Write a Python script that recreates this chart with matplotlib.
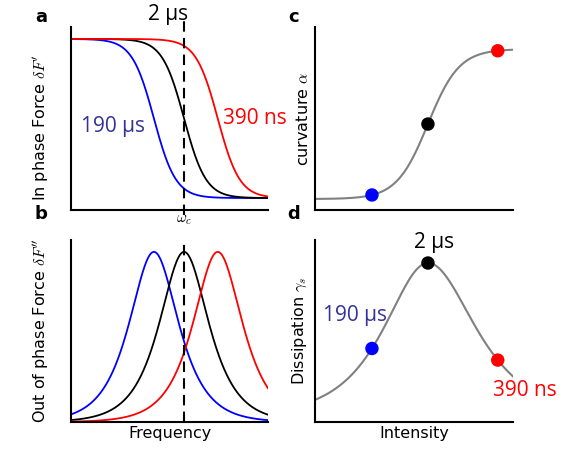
import numpy as np
import matplotlib.pyplot as plt

plt.rcParams['mathtext.fontset'] = 'cm'

# relaxation times and where each sits on the (log) frequency axis
tau_labels = ['190 µs', '2 µs', '390 ns']
tau_colors = ['#0000ff', 'black', '#ff0000']
log_w_centre = [1.65, 2.25, 2.92]   # decades
freq_span = [0.0, 3.92]             # decades

# intensity dependence (panels c, d), intensity axis 0..1
point_intensity = [0.288, 0.571, 0.924]
alpha_centre, alpha_width = 0.571, 0.079
gamma_centre, gamma_base, gamma_amp = 0.571, 0.038, 0.962
gamma_width_lo, gamma_width_hi = 0.194, 0.212

text_blue = '#333399'
text_red = '#ff0000'
lab_font = 'Open Sans'


def in_phase(x, c):
    u = 10 ** (x - c)
    return 1 / (1 + u ** 2)


def out_phase(x, c):
    u = 10 ** (x - c)
    return 2 * u / (1 + u ** 2)


def curvature(s):
    return 1 / (1 + np.exp(-(s - alpha_centre) / alpha_width))


def dissipation(s):
    w = np.where(s < gamma_centre, gamma_width_lo, gamma_width_hi)
    return gamma_base + gamma_amp / np.cosh((s - gamma_centre) / w)


fig = plt.figure(figsize=(5.75, 4.62), dpi=100)
ax_a = fig.add_axes([0.1235, 0.5455, 0.3426, 0.396])
ax_b = fig.add_axes([0.1235, 0.0866, 0.3426, 0.394])
ax_c = fig.add_axes([0.5478, 0.5455, 0.344, 0.396])
ax_d = fig.add_axes([0.5478, 0.0866, 0.344, 0.394])

for ax in (ax_a, ax_b, ax_c, ax_d):
    for side in ('top', 'right'):
        ax.spines[side].set_visible(False)
    for side in ('left', 'bottom'):
        ax.spines[side].set_linewidth(1.5)
    ax.set_xticks([])
    ax.set_yticks([])

x = np.linspace(freq_span[0], freq_span[1], 400)
for c, col in zip(log_w_centre, tau_colors):
    ax_a.plot(x, in_phase(x, c), color=col, lw=1.3)
    ax_b.plot(x, out_phase(x, c), color=col, lw=1.3)

ax_a.set_xlim(freq_span)
ax_a.set_ylim(-0.075, 1.075)
ax_b.set_xlim(freq_span)
ax_b.set_ylim(0, 1.07)

wc = log_w_centre[1]
ax_a.plot([wc, wc], [-0.03, 1.04], color='black', lw=1.5, ls=(0, (5, 3)),
          transform=ax_a.get_xaxis_transform(), clip_on=False)
ax_b.plot([wc, wc], [0, 1], color='black', lw=1.5, ls=(0, (5, 3)),
          transform=ax_b.get_xaxis_transform(), clip_on=False)
ax_a.text(wc, -0.052, r'$\omega_c$', transform=ax_a.get_xaxis_transform(),
          ha='center', va='center', fontsize=11)

ax_a.text(wc - 0.32, 1.068, tau_labels[1], transform=ax_a.get_xaxis_transform(),
          ha='center', va='center', fontsize=15, family=lab_font)
ax_a.text(0.83, 0.45, tau_labels[0], color=text_blue, ha='center', va='center',
          fontsize=15, family=lab_font)
ax_a.text(3.65, 0.5, tau_labels[2], color=text_red, ha='center', va='center',
          fontsize=15, family=lab_font)

ax_a.set_ylabel(r"In phase Force $\delta F'$", fontsize=11.5)
ax_b.set_ylabel(r"Out of phase Force $\delta F''$", fontsize=11.5)
ax_b.set_xlabel('Frequency', fontsize=11.5)
ax_a.yaxis.set_label_coords(-0.1, 0.45)
ax_b.yaxis.set_label_coords(-0.1, 0.5)
ax_b.xaxis.set_label_coords(0.5, -0.022)

# panels c and d
s = np.linspace(0, 1, 300)
ax_c.plot(s, curvature(s), color='#808080', lw=1.5)
ax_d.plot(s, dissipation(s), color='#808080', lw=1.5)
pi = np.array(point_intensity)
ax_c.scatter(pi, curvature(pi), c=tau_colors, s=75, zorder=3, clip_on=False)
ax_d.scatter(pi, dissipation(pi), c=tau_colors, s=75, zorder=3, clip_on=False)

ax_c.set_xlim(0, 1)
ax_c.set_ylim(-0.073, 1.147)
ax_d.set_xlim(0, 1)
ax_d.set_ylim(0, 1.145)

ax_d.text(pi[1] + 0.03, 1.13, tau_labels[1], ha='center', va='center',
          fontsize=15, family=lab_font)
ax_d.text(0.2, 0.67, tau_labels[0], color=text_blue, ha='center', va='center',
          fontsize=15, family=lab_font)
ax_d.text(1.06, 0.2, tau_labels[2], color=text_red, ha='center', va='center',
          fontsize=15, family=lab_font)

ax_c.set_ylabel(r'curvature $\alpha$', fontsize=11.5)
ax_d.set_ylabel(r'Dissipation $\gamma_s$', fontsize=11.5)
ax_d.set_xlabel('Intensity', fontsize=11.5)
ax_c.yaxis.set_label_coords(-0.022, 0.5)
ax_d.yaxis.set_label_coords(-0.032, 0.5)
ax_d.xaxis.set_label_coords(0.5, -0.022)

for lab, px, py in [('a', 41, 17), ('b', 41, 214), ('c', 294, 17), ('d', 294, 214)]:
    fig.text(px / 575, 1 - py / 462, lab, fontsize=13, fontweight='bold',
             ha='center', va='center')

fig.savefig('out.png', dpi=100)
